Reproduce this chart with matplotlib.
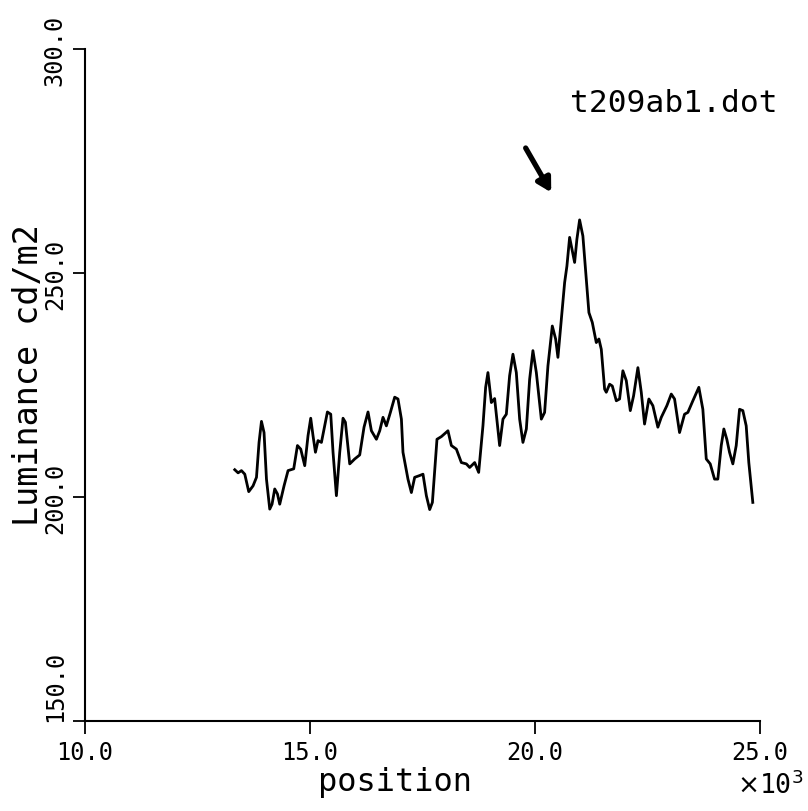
import matplotlib
matplotlib.use("Agg")
import matplotlib.pyplot as plt
from matplotlib.ticker import FuncFormatter

# luminance profile (position in units, luminance in cd/m2)
position = [
    13333, 13407, 13482, 13556, 13644, 13740, 13816, 13873, 13927, 13984,
    14038, 14111, 14162, 14222, 14282, 14333, 14429, 14518, 14644, 14727,
    14800, 14889, 14962, 15022, 15073, 15127, 15184, 15260, 15333, 15393,
    15467, 15518, 15593, 15667, 15740, 15793, 15889, 16000, 16111, 16207,
    16296, 16371, 16482, 16556, 16629, 16704, 16793, 16889, 16962, 17038,
    17073, 17184, 17260, 17333, 17444, 17518, 17593, 17667, 17727, 17829,
    17927, 18073, 18149, 18260, 18371, 18482, 18556, 18667, 18756, 18851,
    18911, 18962, 19038, 19111, 19222, 19296, 19371, 19444, 19518, 19593,
    19667, 19740, 19816, 19889, 19962, 20038, 20149, 20222, 20296, 20393,
    20467, 20518, 20593, 20667, 20718, 20778, 20816, 20889, 20940, 21000,
    21073, 21149, 21207, 21282, 21371, 21429, 21482, 21556, 21593, 21667,
    21727, 21816, 21889, 21962, 22038, 22127, 22200, 22296, 22371, 22444,
    22540, 22629, 22740, 22816, 22940, 23038, 23111, 23222, 23333, 23407,
    23518, 23651, 23740, 23816, 23904, 24000, 24073, 24149, 24207, 24273,
    24333, 24407, 24482, 24556, 24629, 24704, 24762, 24851,
]
luminance = [
    206.1, 205.4, 205.9, 205.1, 201.2, 202.5, 204.4, 212.2, 216.9, 214.4,
    204.0, 197.3, 198.4, 201.8, 200.7, 198.4, 202.5, 205.9, 206.3, 211.5,
    210.7, 207.0, 213.7, 217.6, 213.7, 210.0, 212.6, 212.2, 215.9, 219.0,
    218.5, 210.0, 200.3, 210.0, 217.6, 216.7, 207.4, 208.5, 209.4, 215.6,
    219.0, 214.8, 212.9, 214.8, 217.8, 215.9, 218.9, 222.3, 221.9, 217.4,
    210.0, 204.0, 201.0, 204.4, 204.8, 205.1, 200.3, 197.2, 198.8, 212.9,
    213.5, 214.8, 211.5, 210.7, 207.7, 207.4, 206.6, 207.7, 205.5, 215.9,
    224.5, 227.8, 221.1, 222.0, 211.5, 217.4, 218.5, 227.1, 231.9, 227.8,
    217.4, 212.2, 215.2, 226.3, 232.7, 227.8, 217.4, 218.9, 229.3, 238.2,
    235.3, 231.2, 239.7, 247.9, 251.6, 258.0, 256.1, 252.4, 257.6, 261.9,
    258.3, 248.7, 241.2, 239.0, 234.5, 235.3, 233.0, 224.1, 223.4, 225.2,
    224.8, 221.5, 221.9, 228.2, 226.0, 219.3, 222.6, 228.9, 223.4, 216.3,
    221.9, 220.4, 215.6, 217.8, 220.4, 223.0, 221.9, 214.4, 218.5, 218.9,
    221.5, 224.5, 219.6, 208.5, 207.4, 204.0, 204.0, 211.5, 215.2, 212.9,
    210.0, 207.4, 211.5, 219.6, 219.3, 215.9, 207.7, 198.8,
]

x_ticks = [10000, 15000, 20000, 25000]
y_ticks = [150, 200, 250, 300]
file_name = "t209ab1.dot"

mono = "DejaVu Sans Mono"

fig = plt.figure(figsize=(8.08, 8.12), dpi=100)
ax = fig.add_axes([0.105, 0.111, 0.835, 0.827])

ax.plot(position, luminance, color="black", linewidth=2.0,
        solid_joinstyle="round")

ax.set_xlim(10000, 25000)
ax.set_ylim(150, 300)
ax.set_xticks(x_ticks)
ax.set_yticks(y_ticks)
ax.xaxis.set_major_formatter(FuncFormatter(lambda v, p: "%.1f" % (v / 1000)))
ax.yaxis.set_major_formatter(FuncFormatter(lambda v, p: "%.1f" % v))

for side in ["top", "right"]:
    ax.spines[side].set_visible(False)
for side in ["left", "bottom"]:
    ax.spines[side].set_linewidth(1.5)

ax.tick_params(direction="out", length=9, width=1.3, colors="black")
ax.tick_params(axis="x", pad=5)
ax.tick_params(axis="y", pad=4)
for lab in ax.get_xticklabels():
    lab.set_family(mono)
    lab.set_fontsize(17)
for lab in ax.get_yticklabels():
    lab.set_family(mono)
    lab.set_fontsize(17)
    lab.set_rotation(90)
    lab.set_va("center")
ax.get_yticklabels()[0].set_va("bottom")

# arrow pointing at the peak
ax.annotate("", xy=(20400, 267.5), xytext=(19770, 278.5),
            arrowprops=dict(arrowstyle="-|>,head_length=0.8,head_width=0.45",
                            color="black", lw=3.8))

fig.text(0.963, 0.873, file_name, family=mono, fontsize=22.5,
         ha="right", va="center")
fig.text(0.489, 0.036, "position", family=mono, fontsize=23,
         ha="center", va="center")
fig.text(0.035, 0.538, "Luminance cd/m2", family=mono, fontsize=24,
         ha="center", va="center", rotation=90)
fig.text(0.953, 0.032, r"$\times$10$^3$", family=mono, fontsize=19,
         ha="center", va="center")

fig.savefig("out.png", dpi=100)
